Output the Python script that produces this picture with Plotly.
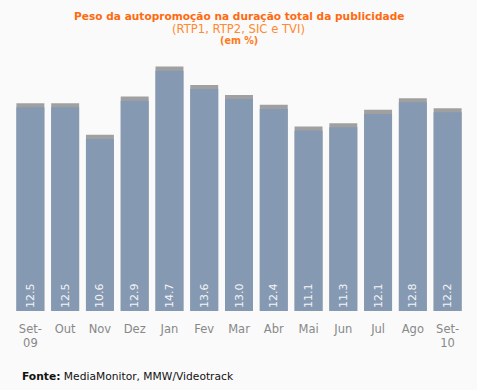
import plotly.graph_objects as go

months = ["Set-<br>09", "Out", "Nov", "Dez", "Jan", "Fev", "Mar", "Abr", "Mai", "Jun", "Jul", "Ago", "Set-<br>10"]
values = [12.5, 12.5, 10.6, 12.9, 14.7, 13.6, 13.0, 12.4, 11.1, 11.3, 12.1, 12.8, 12.2]
cap = 0.25

FONT = "DejaVu Sans"

fig = go.Figure()
# gray cap (full bar height)
fig.add_trace(go.Bar(
    x=months, y=values,
    marker=dict(color="#a0a0a0", line=dict(width=0)),
    hoverinfo="skip", showlegend=False,
))
# blue body
fig.add_trace(go.Bar(
    x=months, y=[v - cap for v in values],
    marker=dict(color="#8699b3", line=dict(width=0)),
    text=[f"{v:.1f}" for v in values],
    textposition="inside", insidetextanchor="start", textangle=-90,
    textfont=dict(family=FONT, size=11, color="#f4f4f4"),
    cliponaxis=False, showlegend=False,
))

fig.update_layout(
    width=477, height=390,
    margin=dict(l=13, r=12, t=45, b=79),
    paper_bgcolor="#fafafa", plot_bgcolor="#fafafa",
    barmode="overlay", bargap=0.196,
    font=dict(family=FONT),
    xaxis=dict(showgrid=False, showline=False, zeroline=False, ticks="", automargin=False,
               ticklabelstandoff=9,
               tickfont=dict(family=FONT, size=11.5, color="#888888")),
    yaxis=dict(range=[0, 16], visible=False, automargin=False),
)

def top_text(txt, ypix, size, color):
    fig.add_annotation(text=txt, xref="paper", yref="paper",
                       x=(238.5 - 13) / (477 - 25), xanchor="center",
                       y=1 + (45 - ypix) / 266, yanchor="middle",
                       showarrow=False, font=dict(family=FONT, size=size, color=color))

top_text("<b>Peso da autopromoção na duração total da publicidade</b>", 16, 10.6, "#ff6a10")
top_text("(RTP1, RTP2, SIC e TVI)", 29, 11.6, "#ff8a30")
top_text("<b>(em %)</b>", 41, 9.6, "#ff7a20")

fig.add_annotation(text="<b>Fonte:</b> MediaMonitor, MMW/Videotrack",
                   xref="paper", yref="paper",
                   x=(20 - 13) / (477 - 25), xanchor="left",
                   y=(311 - 376) / 266, yanchor="middle",
                   showarrow=False, font=dict(family=FONT, size=10.7, color="#111111"))

fig.write_html("out.html", config={"displayModeBar": False},
               post_script="document.body.style.margin='0';document.body.style.background='#fafafa';")
